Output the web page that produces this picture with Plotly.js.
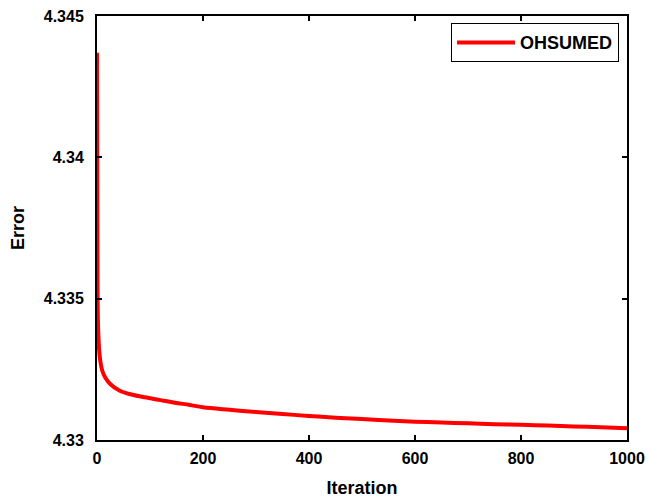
<!DOCTYPE html>
<html>
<head>
<meta charset="utf-8">
<script src="https://cdn.plot.ly/plotly-3.0.1.min.js"></script>
<style>html,body{margin:0;padding:0;background:#fff;}</style>
</head>
<body>
<div id="chart" style="width:648px;height:498px;"></div>
<script>
var iterations = [0, 1, 2, 3, 4, 6, 10, 15, 25, 43, 65, 90, 120, 147, 175, 200, 250, 300, 350, 400, 450, 500, 550, 600, 650, 700, 750, 800, 850, 900, 950, 1000];
var errors = [4.3437, 4.3352, 4.3340, 4.33355, 4.3332, 4.33283, 4.33245, 4.33223, 4.33198, 4.33174, 4.33161, 4.33151, 4.33141, 4.33132, 4.33124, 4.33116, 4.33107, 4.33099, 4.33092, 4.33085, 4.33079, 4.33074, 4.33069, 4.33065, 4.33062, 4.33059, 4.33056, 4.33054, 4.33051, 4.33048, 4.33045, 4.33042];
var seriesName = "OHSUMED";
var xTicks = [0, 200, 400, 600, 800, 1000];
var yTicks = [4.33, 4.335, 4.34, 4.345];
var yTickText = ["4.33", "4.335", "4.34", "4.345"];

var fontFam = "Liberation Sans, Arial, sans-serif";
var trace = {
  x: iterations, y: errors, name: seriesName, type: "scatter", mode: "lines",
  line: {color: "#ff0000", width: 4, shape: "spline", smoothing: 1}
};
var layout = {
  width: 648, height: 498,
  margin: {l: 97, r: 21, t: 16, b: 58},
  paper_bgcolor: "#fff", plot_bgcolor: "#fff",
  font: {family: fontFam, color: "#000"},
  showlegend: true,
  legend: {
    x: 0.985, y: 0.983, xanchor: "right", yanchor: "top",
    bordercolor: "#000", borderwidth: 1, bgcolor: "#fff",
    itemwidth: 58,
    font: {family: fontFam, size: 18, color: "#000", weight: "bold"}
  },
  xaxis: {
    range: [0, 1000], tickvals: xTicks, ticktext: xTicks.map(String),
    showgrid: false, zeroline: false,
    showline: true, linecolor: "#000", linewidth: 2, mirror: "allticks",
    ticks: "inside", ticklen: 5, tickwidth: 2, tickcolor: "#000",
    ticklabelstandoff: 3,
    tickfont: {family: fontFam, size: 16, weight: "bold"},
    title: {text: "<b>Iteration</b>", font: {family: fontFam, size: 18}, standoff: 18}
  },
  yaxis: {
    range: [4.33, 4.345], tickvals: yTicks, ticktext: yTickText,
    showgrid: false, zeroline: false,
    showline: true, linecolor: "#000", linewidth: 2, mirror: "allticks",
    ticks: "inside", ticklen: 5, tickwidth: 2, tickcolor: "#000",
    ticklabelstandoff: 8,
    tickfont: {family: fontFam, size: 16, weight: "bold"},
    title: {text: "<b>Error</b>", font: {family: fontFam, size: 18}, standoff: 14}
  }
};
Plotly.newPlot("chart", [trace], layout, {displayModeBar: false, staticPlot: true});
</script>
</body>
</html>
